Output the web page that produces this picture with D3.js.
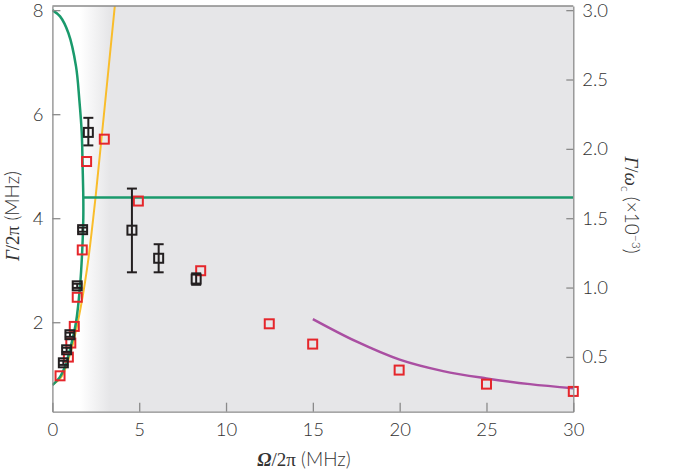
<!DOCTYPE html>
<html>
<head>
<meta charset="utf-8">
<script src="https://cdn.jsdelivr.net/npm/d3@7"></script>
<style>
  body { margin: 0; background: #fff; }
  text { font-family: Lato, "Open Sans", sans-serif; font-weight: 300; fill: #333; }
</style>
</head>
<body>
<svg id="chart" width="685" height="472"></svg>
<script>
// red squares (theory / fit points)
var redOmega = [0.44, 0.92, 1.06, 1.26, 1.43, 1.72, 1.97, 2.99, 4.95, 8.54, 12.49, 14.99, 19.97, 25.0, 30.0];
var redGamma = [0.97, 1.33, 1.60, 1.92, 2.48, 3.39, 5.09, 5.52, 4.33, 2.99, 1.97, 1.58, 1.08, 0.81, 0.67];

// black squares with error bars (measured)
var blackOmega = [0.63, 0.82, 1.01, 1.43, 1.74, 2.07, 4.58, 6.12, 8.28];
var blackGamma = [1.22, 1.47, 1.76, 2.70, 3.78, 5.65, 3.77, 3.23, 2.83];
var blackLo    = [1.18, 1.43, 1.72, 2.66, 3.74, 5.40, 2.96, 2.96, 2.72];
var blackHi    = [1.26, 1.51, 1.80, 2.74, 3.82, 5.93, 4.57, 3.50, 2.94];

// green curve (upper branch, lower branch, flat part)
var greenOmega = [0, 0.44, 0.92, 1.36, 1.55, 1.69, 1.74, 1.78, 1.78, 1.72, 1.59, 1.36, 1.01, 0.73, 0.44, 0];
var greenGamma = [8.0, 7.88, 7.56, 6.92, 6.28, 5.64, 5.0, 4.4, 4.0, 3.39, 2.69, 2.0, 1.47, 1.15, 0.95, 0.79];
var flatOmega = [1.78, 30];
var flatGamma = [4.4, 4.4];

// yellow curve
var yellowOmega = [0, 0.5, 1.0, 1.5, 2.0, 2.5, 3.0, 3.6];
var yellowGamma = [0.8, 0.94, 1.36, 2.06, 3.04, 4.45, 6.1, 8.1];

// magenta curve
var magentaOmega = [15, 17.5, 20, 22.5, 25, 27.5, 30];
var magentaGamma = [2.06, 1.63, 1.28, 1.06, 0.92, 0.81, 0.73];

var xTicks = [0, 5, 10, 15, 20, 25, 30];
var yTicks = [2, 4, 6, 8];
var rTicks = [0.5, 1.0, 1.5, 2.0, 2.5, 3.0];

var svg = d3.select('#chart');

var x = d3.scaleLinear().domain([0, 30]).range([52.4, 573.3]);
var y = d3.scaleLinear().domain([0.28, 8.08]).range([411.7, 6]);
var yR = d3.scaleLinear().domain([0.105, 3.03]).range([411.7, 6]);

var defs = svg.append('defs');
var grad = defs.append('linearGradient')
  .attr('id', 'shade')
  .attr('gradientUnits', 'userSpaceOnUse')
  .attr('x1', x(1.6)).attr('x2', x(3.3))
  .attr('y1', 0).attr('y2', 0);
grad.append('stop').attr('offset', 0).attr('stop-color', '#ffffff');
grad.append('stop').attr('offset', 1).attr('stop-color', '#e6e6e8');

defs.append('clipPath').attr('id', 'clip')
  .append('rect')
  .attr('x', x(0)).attr('y', y(8.08))
  .attr('width', x(30) - x(0)).attr('height', y(0.28) - y(8.08));

svg.append('rect')
  .attr('x', x(0)).attr('y', y(8.08))
  .attr('width', x(30) - x(0)).attr('height', y(0.28) - y(8.08))
  .attr('fill', 'url(#shade)');

var plot = svg.append('g').attr('clip-path', 'url(#clip)');

function pts(xs, ys) {
  return xs.map(function (v, i) { return [v, ys[i]]; });
}

var line = d3.line()
  .x(function (d) { return x(d[0]); })
  .y(function (d) { return y(d[1]); })
  .curve(d3.curveCatmullRom);

plot.append('path')
  .attr('d', line(pts(yellowOmega, yellowGamma)))
  .attr('fill', 'none').attr('stroke', '#f9bd2b').attr('stroke-width', 2);

plot.append('path')
  .attr('d', line(pts(greenOmega, greenGamma)))
  .attr('fill', 'none').attr('stroke', '#1a9a6c').attr('stroke-width', 2.5);

plot.append('path')
  .attr('d', line(pts(flatOmega, flatGamma)))
  .attr('fill', 'none').attr('stroke', '#1a9a6c').attr('stroke-width', 2.5);

plot.append('path')
  .attr('d', line(pts(magentaOmega, magentaGamma)))
  .attr('fill', 'none').attr('stroke', '#aa4fa2').attr('stroke-width', 2.5);

// red squares
svg.append('g')
  .selectAll('rect')
  .data(pts(redOmega, redGamma))
  .join('rect')
  .attr('x', function (d) { return x(d[0]) - 4.5; })
  .attr('y', function (d) { return y(d[1]) - 4.5; })
  .attr('width', 9).attr('height', 9)
  .attr('fill', 'none').attr('stroke', '#e5262b').attr('stroke-width', 2);

// black squares + error bars
var blk = svg.append('g')
  .selectAll('g')
  .data(blackOmega.map(function (v, i) {
    return { o: v, g: blackGamma[i], lo: blackLo[i], hi: blackHi[i] };
  }))
  .join('g')
  .attr('stroke', '#231f20').attr('stroke-width', 2).attr('fill', 'none');

blk.append('line')
  .attr('x1', function (d) { return x(d.o); })
  .attr('x2', function (d) { return x(d.o); })
  .attr('y1', function (d) { return y(d.lo); })
  .attr('y2', function (d) { return y(d.hi); });
blk.append('line')
  .attr('x1', function (d) { return x(d.o) - 5; })
  .attr('x2', function (d) { return x(d.o) + 5; })
  .attr('y1', function (d) { return y(d.lo); })
  .attr('y2', function (d) { return y(d.lo); });
blk.append('line')
  .attr('x1', function (d) { return x(d.o) - 5; })
  .attr('x2', function (d) { return x(d.o) + 5; })
  .attr('y1', function (d) { return y(d.hi); })
  .attr('y2', function (d) { return y(d.hi); });
blk.append('rect')
  .attr('x', function (d) { return x(d.o) - 4.5; })
  .attr('y', function (d) { return y(d.g) - 4.5; })
  .attr('width', 9).attr('height', 9);

// axes
function styleAxis(g) {
  g.selectAll('path').attr('stroke', '#8a8a8a').attr('stroke-width', 1.3);
  g.selectAll('line').attr('stroke', '#8a8a8a').attr('stroke-width', 1.3);
  g.selectAll('text').style('font-size', '18.5px').attr('fill', '#3a3a3a')
    .style('font-family', 'Lato, sans-serif').style('font-weight', 300);
}

svg.append('g')
  .attr('transform', 'translate(0,' + y(0.28) + ')')
  .call(d3.axisBottom(x).tickValues(xTicks).tickSize(-9).tickSizeOuter(0).tickPadding(11))
  .call(styleAxis);

svg.append('g')
  .attr('transform', 'translate(' + x(0) + ',0)')
  .call(d3.axisLeft(y).tickValues(yTicks).tickSize(-8).tickSizeOuter(0).tickPadding(9))
  .call(styleAxis);

svg.append('g')
  .attr('transform', 'translate(' + x(30) + ',0)')
  .call(d3.axisRight(yR).tickValues(rTicks).tickSize(-7).tickSizeOuter(0).tickPadding(9)
    .tickFormat(d3.format('.1f')))
  .call(styleAxis);

// top border
svg.append('line')
  .attr('x1', x(0)).attr('x2', x(30))
  .attr('y1', y(8.08)).attr('y2', y(8.08))
  .attr('stroke', '#8a8a8a').attr('stroke-width', 1.3);

// axis titles
var serif = '"Liberation Serif", "DejaVu Serif", serif';

var xt = svg.append('text')
  .attr('x', 304).attr('y', 466)
  .attr('text-anchor', 'middle')
  .style('font-size', '19px');
xt.append('tspan').text('Ω').style('font-family', serif).style('font-style', 'italic').style('font-weight', 700);
xt.append('tspan').text('/2π').style('font-family', serif).style('font-weight', 400);
xt.append('tspan').text(' (MHz)');

var yt = svg.append('text')
  .attr('transform', 'translate(19,216) rotate(-90)')
  .attr('text-anchor', 'middle')
  .style('font-size', '19px');
yt.append('tspan').text('Γ').style('font-family', serif).style('font-style', 'italic');
yt.append('tspan').text('/2π').style('font-family', serif).style('font-weight', 400);
yt.append('tspan').text(' (MHz)');

var rt = svg.append('text')
  .attr('transform', 'translate(625,205) rotate(90)')
  .attr('text-anchor', 'middle')
  .style('font-size', '19px');
rt.append('tspan').text('Γ').style('font-family', serif).style('font-style', 'italic');
rt.append('tspan').text('/').style('font-family', serif);
rt.append('tspan').text('ω').style('font-family', serif).style('font-style', 'italic');
rt.append('tspan').text('c').attr('dy', 4).style('font-size', '12px');
rt.append('tspan').text(' (×10').attr('dy', -4);
rt.append('tspan').text('−3').attr('dy', -7).style('font-size', '12px');
rt.append('tspan').text(')').attr('dy', 7);
</script>
</body>
</html>
